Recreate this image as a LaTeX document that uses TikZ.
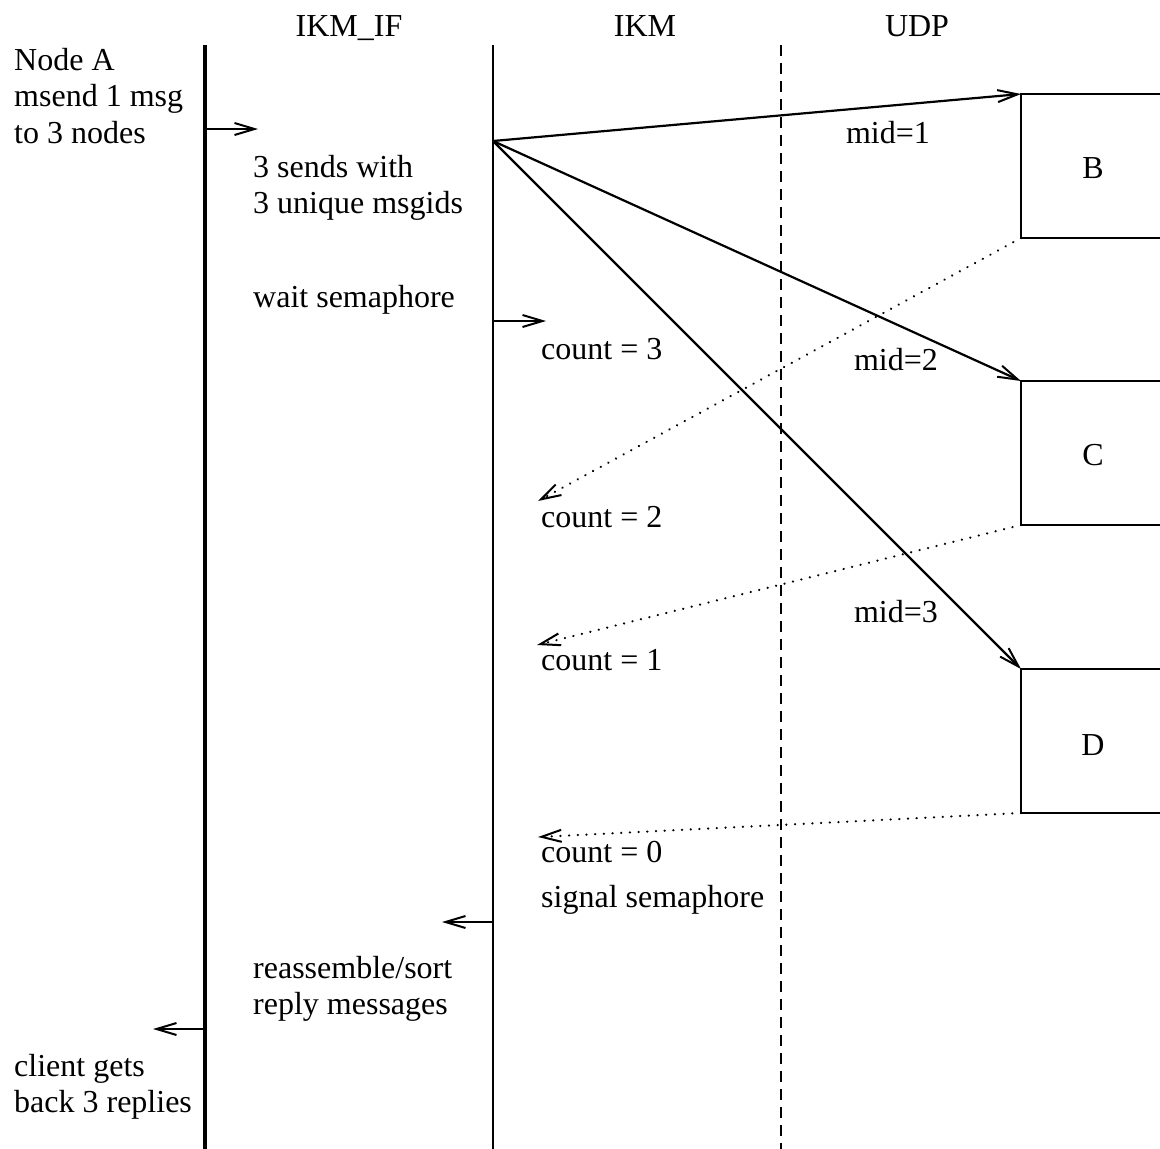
\documentclass[tikz,border=0pt]{standalone}
\usepackage{fontspec}
\setmainfont{Liberation Serif}
\usetikzlibrary{arrows.meta}
\begin{document}
\begin{tikzpicture}[x=1pt,y=-1pt,
  txt/.style={inner sep=0pt,anchor=west,align=left,font=\fontsize{32}{36.5}\selectfont},
  ctxt/.style={inner sep=0pt,font=\fontsize{32}{36.5}\selectfont},
  hdr/.style={inner sep=0pt,anchor=base,font=\fontsize{32}{36.5}\selectfont},
  tip/.style={-{Straight Barb[length=20pt,width=12pt,line width=2pt]}},
  msg/.style={line width=2.2pt,tip},
  reply/.style={line width=2.4pt,line cap=round,dash pattern=on 0.1pt off 8.6pt,-{Straight Barb[length=20pt,width=12pt,line width=2pt,line cap=butt]}},
  boxside/.style={line width=2.2pt}]
\useasboundingbox (0,0) rectangle (1160,1149);
% lifelines
\coordinate (ifTop) at (205,45); \coordinate (ifBot) at (205,1149);
\coordinate (ikmTop) at (493,45); \coordinate (ikmBot) at (493,1149);
\coordinate (udpTop) at (781,45); \coordinate (udpBot) at (781,1149);
\draw[line width=4.5pt] (ifTop) -- (ifBot);
\draw[line width=2.2pt] (ikmTop) -- (ikmBot);
\draw[line width=2.2pt,dash pattern=on 11pt off 7pt] (udpTop) -- (udpBot);
% headers
\node[hdr] (hif) at (349,36) {IKM\_IF};
\node[hdr] (hikm) at (645,36) {IKM};
\node[hdr] (hudp) at (917,36) {UDP};
% left texts
\node[txt] (nodeA) at (14,96) {Node A\\msend 1 msg\\to 3 nodes};
\node[txt] (sends) at (253,188) {3 sends with\\3 unique msgids};
\node[txt] (wait) at (253,300) {wait semaphore};
\node[txt] (c3) at (541,349) {count = 3};
\node[txt] (c2) at (541,517) {count = 2};
\node[txt] (c1) at (541,660) {count = 1};
\node[txt] (c0) at (541,852) {count = 0};
\node[txt] (sig) at (541,900) {signal semaphore};
\node[txt] (reas) at (253,989) {reassemble/sort\\reply messages};
\node[txt] (client) at (14,1087) {client gets\\back 3 replies};
% mid labels
\node[ctxt] (m1) at (888,133) {mid=1};
\node[ctxt] (m2) at (896,360) {mid=2};
\node[ctxt] (m3) at (896,612) {mid=3};
% boxes (cut by right edge)
\coordinate (Btl) at (1021,94); \coordinate (Bbl) at (1021,238);
\coordinate (Ctl) at (1021,381); \coordinate (Cbl) at (1021,525);
\coordinate (Dtl) at (1021,669); \coordinate (Dbl) at (1021,813);
\draw[boxside] (1160,94) -- (Btl) -- (Bbl) -- (1160,238);
\draw[boxside] (1160,381) -- (Ctl) -- (Cbl) -- (1160,525);
\draw[boxside] (1160,669) -- (Dtl) -- (Dbl) -- (1160,813);
\node[ctxt] (B) at (1093,168) {B};
\node[ctxt] (C) at (1093,455) {C};
\node[ctxt] (D) at (1093,745) {D};
% small arrows
\coordinate (a1s) at (205,129); \coordinate (a1e) at (258,129);
\coordinate (a2s) at (493,321); \coordinate (a2e) at (546,321);
\coordinate (a3s) at (493,922); \coordinate (a3e) at (442,922);
\coordinate (a4s) at (205,1029); \coordinate (a4e) at (153,1029);
\draw[msg] (a1s) -- (a1e);
\draw[msg] (a2s) -- (a2e);
\draw[msg] (a3s) -- (a3e);
\draw[msg] (a4s) -- (a4e);
% fan
\coordinate (fan) at (493,141);
\draw[msg] (fan) -- (Btl);
\draw[msg] (fan) -- (Ctl);
\draw[msg] (fan) -- (Dtl);
% replies
\coordinate (r1) at (538,501);
\coordinate (r2) at (537,645);
\coordinate (r3) at (538,837);
\draw[reply] (Bbl) -- (r1);
\draw[reply] (Cbl) -- (r2);
\draw[reply] (Dbl) -- (r3);
\end{tikzpicture}
\end{document}
